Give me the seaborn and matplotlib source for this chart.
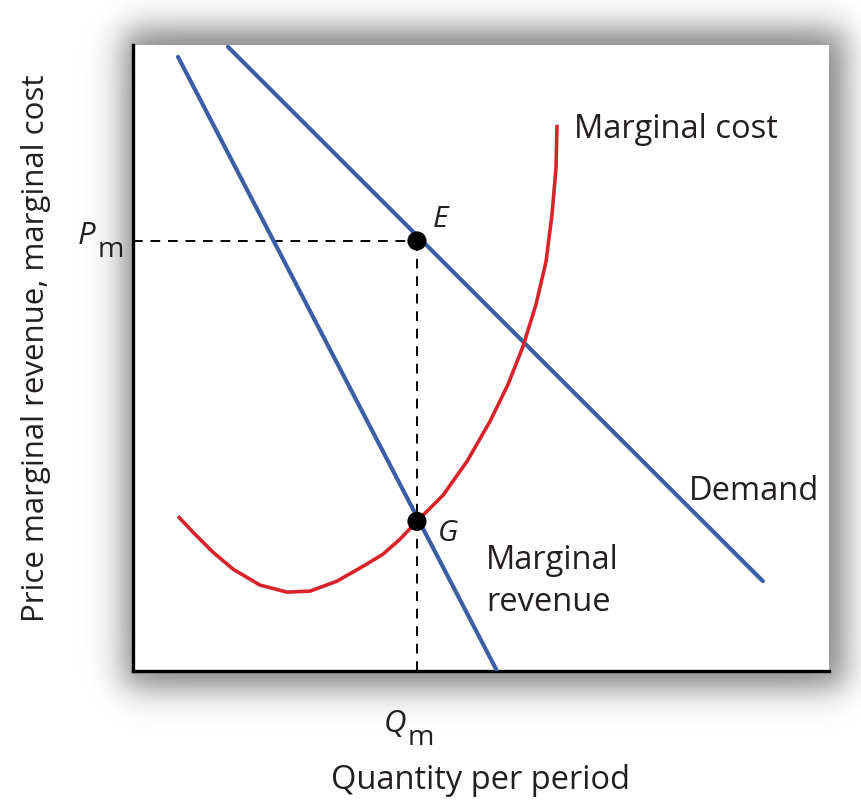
import numpy as np
import pandas as pd
import matplotlib
matplotlib.use("Agg")
import matplotlib.pyplot as plt
import seaborn as sns

# ---- data (arbitrary units, axes span 0..10) ----
demand_q = [1.365, 9.05]
demand_p = [9.97, 1.435]
mr_q = [0.647, 5.23]
mr_p = [9.81, 0.0]
mc_q = [0.647, 0.862, 1.149, 1.437, 1.825, 2.213, 2.543, 2.931, 3.333, 3.592, 3.836,
        4.080, 4.454, 4.799, 5.129, 5.388, 5.603, 5.790, 5.934, 6.020, 6.078, 6.092]
mc_p = [2.472, 2.217, 1.898, 1.627, 1.372, 1.260, 1.276, 1.435, 1.691, 1.866, 2.105,
        2.392, 2.807, 3.349, 3.987, 4.577, 5.183, 5.853, 6.539, 7.289, 8.038, 8.724]
q_m = 4.08
p_m = 6.87
p_g = 2.39
point_labels = ["E", "G"]

sns.set_theme(style="white")
plt.rcParams['font.family'] = ['Open Sans', 'DejaVu Sans']

BLUE = "#3b5ea6"
RED = "#d8232a"
TXT = "#231f20"

fig = plt.figure(figsize=(8.62, 8.04), dpi=100)

# soft drop shadow behind the plotting box
H, W = 804, 862
yy, xx = np.mgrid[0:H, 0:W].astype(float)
x0, x1, y0, y1 = 124, 844, 30, 688
s = 10.0
sig = lambda v: 1.0 / (1.0 + np.exp(-v))
a = sig((xx - x0) / s) * sig((x1 - xx) / s) * sig((yy - y0) / s) * sig((y1 - yy) / s)
rgba = np.zeros((H, W, 4))
rgba[..., 3] = 0.5 * a
bg = fig.add_axes([0, 0, 1, 1], zorder=0)
bg.imshow(rgba, extent=[0, W, H, 0], aspect='auto', interpolation='bilinear')
bg.set_xlim(0, W); bg.set_ylim(H, 0)
bg.axis('off')

ax = fig.add_axes([133 / 862, 1 - 672 / 804, (829 - 133) / 862, (672 - 46) / 804], zorder=1)
ax.set_facecolor("white")

df_d = pd.DataFrame({"q": demand_q, "p": demand_p})
df_mr = pd.DataFrame({"q": mr_q, "p": mr_p})
df_mc = pd.DataFrame({"q": mc_q, "p": mc_p})

ax.plot([0, q_m], [p_m, p_m], color="black", lw=1.4, ls=(0, (5, 4)), zorder=2)
ax.plot([q_m, q_m], [0, p_m], color="black", lw=1.4, ls=(0, (5, 4)), zorder=2)

sns.lineplot(data=df_d, x="q", y="p", ax=ax, color=BLUE, lw=3.0, sort=False, zorder=3)
sns.lineplot(data=df_mr, x="q", y="p", ax=ax, color=BLUE, lw=3.0, sort=False, zorder=3)
sns.lineplot(data=df_mc, x="q", y="p", ax=ax, color=RED, lw=2.6, sort=False, zorder=3,
             solid_joinstyle="round", solid_capstyle="butt")

df_pts = pd.DataFrame({"q": [q_m, q_m], "p": [p_m, p_g], "lab": point_labels})
sns.scatterplot(data=df_pts, x="q", y="p", ax=ax, color="black", s=190, edgecolor="none", zorder=5)

ax.set_xlim(0, 10)
ax.set_ylim(0, 10)
ax.set_xticks([])
ax.set_yticks([])
ax.set_xlabel("")
ax.set_ylabel("")
for side in ["top", "right"]:
    ax.spines[side].set_visible(False)
for side in ["left", "bottom"]:
    ax.spines[side].set_visible(True)
    ax.spines[side].set_color("black")
    ax.spines[side].set_linewidth(2.4)

fs = 23.5
ax.text(q_m + 0.22, p_m + 0.12, point_labels[0], fontsize=fs - 2, style="italic", color=TXT,
        ha="left", va="bottom")
ax.text(q_m + 0.3, p_g - 0.18, point_labels[1], fontsize=fs - 2, style="italic", color=TXT,
        ha="left", va="center")
ax.text(6.33, 8.66, "Marginal cost", fontsize=fs, color=TXT, ha="left", va="center")
ax.text(7.98, 2.88, "Demand", fontsize=fs, color=TXT, ha="left", va="center")
ax.text(5.07, 1.45, "Marginal\nrevenue", fontsize=fs, color=TXT, ha="left", va="center",
        linespacing=1.35)

# axis tick-like labels
fig.text(78 / 862, 1 - 236 / 804, "P", fontsize=fs - 1, style="italic", color=TXT, ha="left", va="center")
fig.text(98 / 862, 1 - 250 / 804, "m", fontsize=fs - 3, color=TXT, ha="left", va="center")
fig.text(384 / 862, 1 - 724 / 804, "Q", fontsize=fs - 1, style="italic", color=TXT, ha="left", va="center")
fig.text(408 / 862, 1 - 738 / 804, "m", fontsize=fs - 3, color=TXT, ha="left", va="center")

fig.text(481 / 862, 1 - 781 / 804, "Quantity per period", fontsize=fs, color=TXT,
         ha="center", va="center")
fig.text(36 / 862, 1 - 348 / 804, "Price marginal revenue, marginal cost", fontsize=22.5,
         color=TXT, ha="center", va="center", rotation=90)

fig.savefig("out.png", dpi=100, facecolor="white")
